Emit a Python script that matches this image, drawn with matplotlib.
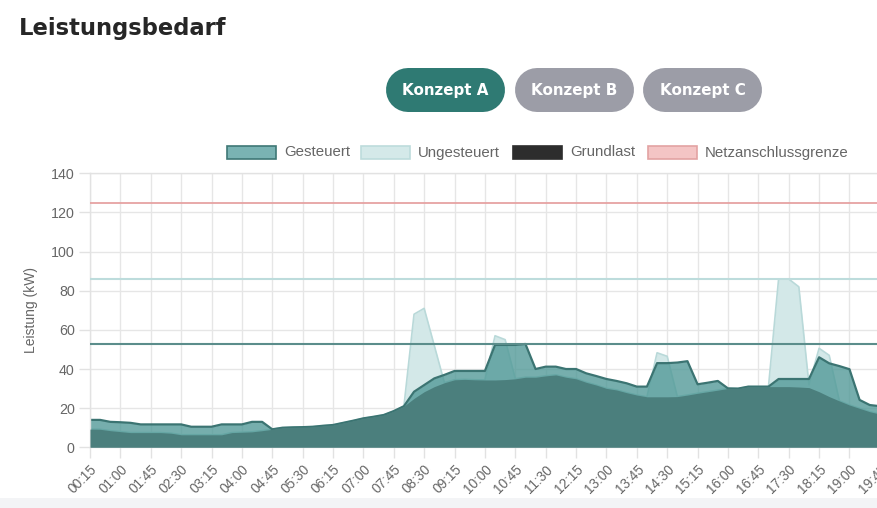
import matplotlib
matplotlib.use("Agg")
import matplotlib.pyplot as plt
from matplotlib.patches import Rectangle
import numpy as np

# ---------------------------------------------------------------
# DATA (kW, 15-minute steps starting 00:15)
times = ["%02d:%02d" % divmod(15 * (k + 1), 60) for k in range(80)]

gesteuert = [14, 14, 13, 12.8, 12.5, 11.7, 11.7, 11.7, 11.7, 11.7,
             10.5, 10.5, 10.5, 11.7, 11.7, 11.7, 13, 13, 9.2, 10,
             10.2, 10.3, 10.5, 11, 11.4, 12.5, 13.6, 14.8, 15.6, 16.5,
             18.5, 21, 28.4, 31.8, 35.2, 37, 39, 39, 39, 39,
             52.3, 52.3, 52.3, 52.8, 40, 41.2, 41.2, 40, 40, 37.8,
             36.4, 34.9, 33.9, 32.7, 31, 31, 43, 43, 43.3, 44,
             32.2, 33, 33.9, 30.1, 30, 31, 31, 31, 34.9, 34.9,
             34.9, 34.9, 46, 42.9, 41.5, 39.9, 24.2, 21.6, 21, 20.5]

grundlast = [9.3, 9.2, 8.5, 8, 7.5, 7.5, 7.5, 7.5, 7.2, 6.4,
             6.4, 6.4, 6.4, 6.4, 7.5, 7.7, 7.9, 8.5, 9.2, 10,
             10.2, 10.3, 10.5, 11, 11.4, 12.5, 13.6, 14.8, 15.6, 16.5,
             18.5, 21, 25, 28.4, 31, 33, 34.5, 34.7, 34.5, 34.4,
             34.4, 34.6, 35, 35.8, 35.8, 36.5, 37, 35.8, 35, 33.2,
             31.8, 30.1, 29.3, 27.9, 26.7, 25.8, 25.8, 25.8, 25.9, 26.7,
             27.6, 28.4, 29.2, 30.1, 30, 31, 31, 31, 31, 31,
             30.8, 30.5, 28.4, 25.9, 23.7, 21.6, 19.9, 18.2, 17, 16.5]

ungesteuert = [9.3, 9.2, 8.5, 8, 7.5, 7.5, 7.5, 7.5, 7.2, 6.4,
               6.4, 6.4, 6.4, 6.4, 7.5, 7.7, 7.9, 8.5, 9.2, 10,
               10.2, 10.3, 10.5, 11, 11.4, 12.5, 13.6, 14.8, 15.6, 16.5,
               18.5, 21, 68, 71, 52, 33, 34.5, 34.7, 34.5, 34.4,
               57, 55, 35, 35.8, 35.8, 36.5, 37, 35.8, 35, 33.2,
               31.8, 30.1, 29.3, 27.9, 26.7, 25.8, 48.3, 46.5, 25.9, 26.7,
               27.6, 28.4, 29.2, 30.1, 30, 31, 31, 31, 86, 86,
               82, 32, 50.6, 47, 23.7, 21.6, 19.9, 18.2, 17, 16.5]

netz_grenze = 125

konzepte = ["Konzept A", "Konzept B", "Konzept C"]
legend_labels = ["Gesteuert", "Ungesteuert", "Grundlast", "Netzanschlussgrenze"]
# ---------------------------------------------------------------

W, H = 877, 508
fig = plt.figure(figsize=(W / 100, H / 100), dpi=100)

# overlay in pixel coords for title / buttons / legend
ov = fig.add_axes([0, 0, 1, 1])
ov.set_xlim(0, W)
ov.set_ylim(H, 0)
ov.axis("off")
ov.set_zorder(0)

ov.add_patch(Rectangle((0, 498), W, 10, color="#f3f4f6", lw=0))
ov.text(19, 29, "Leistungsbedarf", fontsize=16.3, fontweight="bold",
        family="DejaVu Sans", color="#262626", va="center", ha="left")

btn_colors = ["#2f7a73", "#9c9da7", "#9c9da7"]
btn_x = [386, 515, 643]
for name, bx, bc in zip(konzepte, btn_x, btn_colors):
    # pill = thick line with round caps (44 px high)
    ov.plot([bx + 22, bx + 97], [90, 90], color=bc, lw=44 * 0.72,
            solid_capstyle="round")
    ov.text(bx + 59.5, 90.5, name, color="white", fontsize=10.9, fontweight="bold",
            family="DejaVu Sans", ha="center", va="center")

# legend
leg_fc = ["#7ab3b3", "#d4e9e9", "#2d2d2d", "#f4c5c5"]
leg_ec = ["#3f7876", "#bddcdc", "#2d2d2d", "#e3a3a3"]
leg_x = [227, 361, 513, 648]
for lab, lx, fc, ec in zip(legend_labels, leg_x, leg_fc, leg_ec):
    ov.add_patch(Rectangle((lx, 145.5), 49, 13.5, fc=fc, ec=ec, lw=1.2))
    ov.text(lx + 57, 152.5, lab, color="#666666", fontsize=10.8,
            family="Liberation Sans", va="center", ha="left")

# main chart
ax = fig.add_axes([90 / W, 1 - 447.3 / H, 962 / W, 274 / H])
ax.set_zorder(2)
ax.set_facecolor("none")
x = np.arange(len(times))

ax.fill_between(x, 0, ungesteuert, color="#d3e8e8", lw=0, zorder=1)
ax.plot(x, ungesteuert, color="#b9d9d9", lw=1.2, zorder=1.5)
ax.fill_between(x, 0, gesteuert, color="#4f9896", alpha=0.78, lw=0, zorder=2)
ax.plot(x, gesteuert, color="#3b7472", lw=1.6, zorder=2.5)
ax.fill_between(x, 0, grundlast, color="#4b7f7d", lw=0, zorder=3)

ax.axhline(netz_grenze, color="#e6a2a2", lw=1.3, zorder=4)
ax.axhline(max(ungesteuert), color="#bddcdc", lw=1.5, zorder=4)
ax.axhline(max(gesteuert), color="#5b8d8b", lw=1.5, zorder=4)

ax.set_xlim(0, 95)
ax.set_ylim(0, 140)
ax.set_yticks(range(0, 141, 20))
ticks = x[::3]
ax.set_xticks(ticks)
ax.set_xticklabels([times[t] for t in ticks], rotation=45, ha="right",
                   rotation_mode="anchor", fontsize=9.8, color="#666666",
                   family="Liberation Sans")
for lab in ax.get_yticklabels():
    lab.set_fontsize(10.3)
    lab.set_color("#666666")
    lab.set_family("Liberation Sans")
ax.tick_params(axis="both", length=8, color="#e2e2e2", width=1)
ax.tick_params(axis="x", pad=3)
ax.tick_params(axis="y", pad=3)
ax.grid(True, color="#e6e6e6", lw=1, zorder=0)
ax.set_axisbelow(True)
for s in ax.spines.values():
    s.set_color("#e2e2e2")
    s.set_linewidth(1)
ax.set_ylabel("Leistung (kW)", fontsize=10, color="#666666",
              family="Liberation Sans", labelpad=9)

fig.savefig("out.png", dpi=100)
